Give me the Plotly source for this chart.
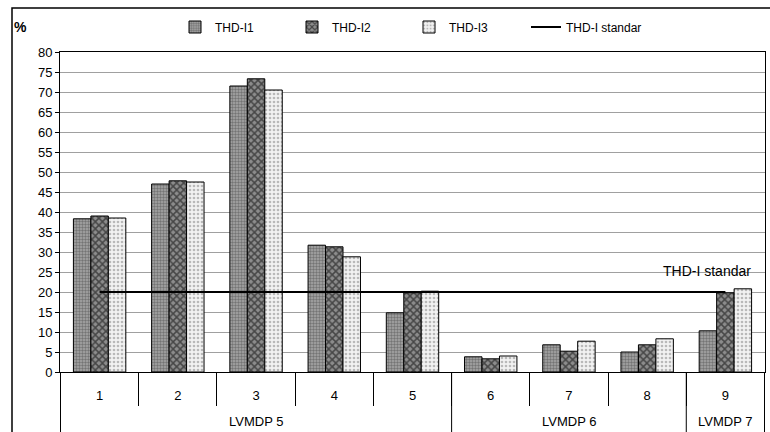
import plotly.graph_objects as go

groups = ["LVMDP 5"] * 5 + ["LVMDP 6"] * 3 + ["LVMDP 7"]
points = ["1", "2", "3", "4", "5", "6", "7", "8", "9"]
thd_i1 = [38.3, 47.0, 71.5, 31.7, 14.8, 3.8, 6.8, 5.0, 10.3]
thd_i2 = [39.0, 47.8, 73.3, 31.3, 19.8, 3.3, 5.2, 6.8, 19.8]
thd_i3 = [38.5, 47.5, 70.5, 28.8, 20.2, 4.0, 7.7, 8.3, 20.8]
standard = [20] * 9
y_ticks = list(range(0, 81, 5))

FONT = "Liberation Sans, Arial, sans-serif"

fig = go.Figure()
fig.add_trace(go.Bar(
    name="THD-I1", x=points, y=thd_i1,
    marker=dict(color="#9a9a9a", line=dict(color="black", width=1),
                pattern=dict(shape=".", bgcolor="#a8a8a8", fgcolor="#404040", size=3, solidity=0.5)),
))
fig.add_trace(go.Bar(
    name="THD-I2", x=points, y=thd_i2,
    marker=dict(color="#606060", line=dict(color="black", width=1),
                pattern=dict(shape="x", bgcolor="#8c8c8c", fgcolor="#000000", size=5, solidity=0.5)),
))
fig.add_trace(go.Bar(
    name="THD-I3", x=points, y=thd_i3,
    marker=dict(color="#e8e8e8", line=dict(color="black", width=1),
                pattern=dict(shape=".", bgcolor="#f2f2f2", fgcolor="#808080", size=4, solidity=0.35)),
))
fig.add_trace(go.Scatter(
    name="THD-I standar", x=points, y=standard, mode="lines",
    line=dict(color="black", width=2),
))

# group boundaries / centres derived from the group list
bounds = [-0.5]
for i in range(1, len(groups)):
    if groups[i] != groups[i - 1]:
        bounds.append(i - 0.5)
bounds.append(len(groups) - 0.5)

shapes = [
    dict(type="rect", xref="paper", yref="paper",
         x0=(12 - 60) / 705, x1=1.2, y0=-0.3, y1=(372 - 8) / 320,
         line=dict(color="black", width=1.5), fillcolor="rgba(0,0,0,0)", layer="below"),
]
for b in bounds:
    shapes.append(dict(type="line", xref="x", yref="paper", x0=b, x1=b, y0=0, y1=-0.3,
                       line=dict(color="black", width=1)))

annotations = [
    dict(text="<b>%</b>", xref="paper", yref="paper", x=(12 - 60) / 705, y=(372 - 27) / 320,
         xanchor="left", yanchor="middle", showarrow=False, font=dict(family=FONT, size=14)),
    dict(text="THD-I standar", xref="paper", yref="y", x=(753 - 60) / 705, y=25.3,
         xanchor="right", yanchor="middle", showarrow=False, font=dict(family=FONT, size=14)),
]
for k in range(len(bounds) - 1):
    lo, hi = bounds[k], bounds[k + 1]
    annotations.append(dict(text=groups[int(lo + 0.5)], xref="x", yref="paper",
                            x=(lo + hi) / 2, y=(372 - 421) / 320, xanchor="center", yanchor="middle",
                            showarrow=False, font=dict(family=FONT, size=13)))

fig.update_layout(
    width=770, height=432,
    margin=dict(l=60, r=5, t=52, b=60),
    paper_bgcolor="white", plot_bgcolor="white",
    font=dict(family=FONT, size=12, color="black"),
    barmode="group", bargap=0.33, bargroupgap=0,
    showlegend=True,
    legend=dict(orientation="h", x=(175 - 60) / 705, y=(372 - 27) / 320, xanchor="left", yanchor="middle",
                entrywidth=72, entrywidthmode="pixels",
                font=dict(family=FONT, size=12), bgcolor="rgba(0,0,0,0)"),
    annotations=annotations,
    shapes=shapes,
)

fig.update_xaxes(
    type="category", showline=True, linecolor="black", linewidth=1, mirror=True,
    ticks="outside", tickson="boundaries", tickcolor="black", ticklen=33,
    ticklabelstandoff=11,
    tickfont=dict(family=FONT, size=13),
)
fig.update_yaxes(
    range=[0, 80], tickvals=y_ticks, ticks="outside", tickcolor="black", ticklen=4,
    showline=True, linecolor="black", linewidth=1, mirror=True,
    showgrid=True, gridcolor="#a0a0a0", gridwidth=1,
    tickfont=dict(family=FONT, size=13),
)

fig.write_html("out.html")
